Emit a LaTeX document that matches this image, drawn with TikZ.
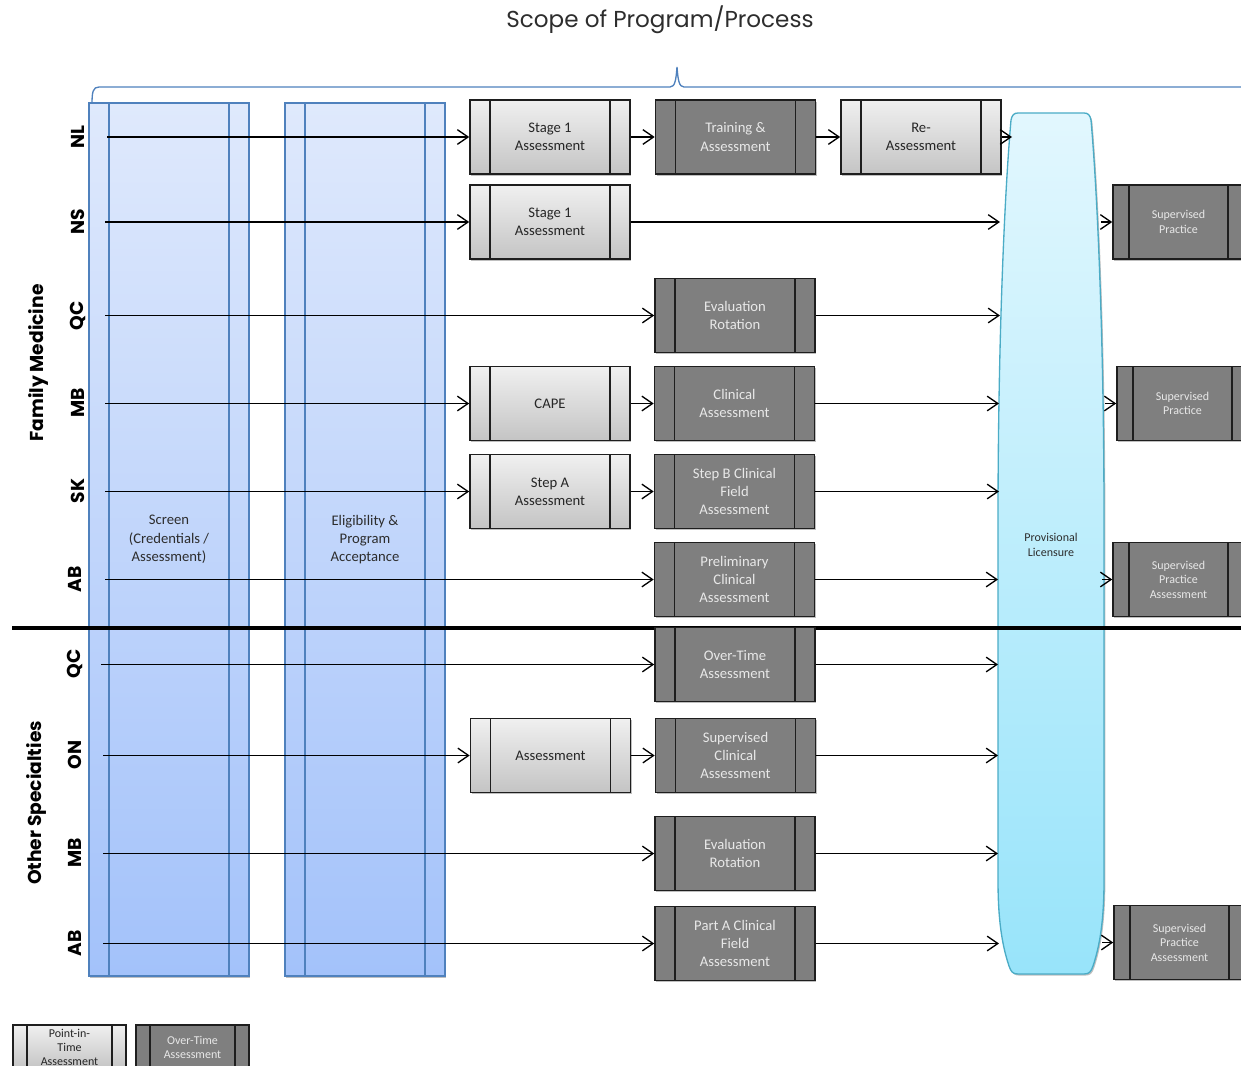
\documentclass[tikz,border=0pt]{standalone}
\usepackage{fontspec}
\setmainfont{Carlito}
\newfontfamily\headfont{Poppins}
\usetikzlibrary{arrows.meta,shadows}

\definecolor{colTop}{RGB}{223,233,252}
\definecolor{colBot}{RGB}{163,194,250}
\definecolor{colLine}{RGB}{79,129,189}
\definecolor{pitTop}{RGB}{240,240,240}
\definecolor{pitBot}{RGB}{196,196,196}
\definecolor{otFill}{RGB}{127,127,127}
\definecolor{boxLine}{RGB}{30,30,30}
\definecolor{pitText}{RGB}{38,38,38}
\definecolor{otText}{RGB}{232,232,232}
\definecolor{provTop}{RGB}{226,247,254}
\definecolor{provBot}{RGB}{152,228,250}
\definecolor{provLine}{RGB}{75,172,198}
\definecolor{darkText}{RGB}{45,45,45}

\tikzset{
  arr/.style={line width=1pt, -{Straight Barb[length=8pt,width=11pt,line width=1pt]}},
  softshadow/.style={drop shadow={shadow xshift=1pt, shadow yshift=-1.2pt, opacity=0.25, fill=black}},
  panels/.style={path picture={
    \draw[boxLine,line width=1.2pt] ([xshift=#1]path picture bounding box.south west) -- ([xshift=#1]path picture bounding box.north west);
    \draw[boxLine,line width=1.2pt] ([xshift=-#1]path picture bounding box.south east) -- ([xshift=-#1]path picture bounding box.north east);}},
  colpanels/.style={path picture={
    \draw[colLine,line width=1.1pt] ([xshift=#1]path picture bounding box.south west) -- ([xshift=#1]path picture bounding box.north west);
    \draw[colLine,line width=1.1pt] ([xshift=-#1]path picture bounding box.south east) -- ([xshift=-#1]path picture bounding box.north east);}},
  boxbase/.style={draw=boxLine, line width=1.2pt, minimum width=120pt, minimum height=55.5pt,
    inner sep=0pt, align=center, font=\fontsize{11}{13.8}\selectfont, panels=15pt, softshadow},
  pit/.style={boxbase, top color=pitTop, bottom color=pitBot, text=pitText},
  ot/.style={boxbase, fill=otFill, text=otText},
  smallbox/.style={minimum width=98.25pt, panels=12pt, font=\fontsize{9}{10.8}\selectfont},
  column/.style={draw=colLine, line width=1.1pt, top color=colTop, bottom color=colBot,
    minimum width=120pt, minimum height=654.75pt, inner sep=0pt, align=center,
    text=darkText, font=\fontsize{11}{13.8}\selectfont, colpanels=15pt, softshadow},
  rowlab/.style={rotate=90, font=\fontsize{14}{16}\headfont\bfseries, text=black},
  grouplab/.style={rotate=90, font=\fontsize{14}{16}\headfont\bfseries, text=black},
}

\begin{document}
\begin{tikzpicture}[x=0.75pt, y=-0.75pt]
\useasboundingbox (0,0) rectangle (1241,1066);

% title and brace
\node[font=\fontsize{17.3}{20}\headfont, text=darkText] (title) at (660,20) {Scope of Program/Process};
\draw[colLine, line width=1pt] (92,104) .. controls (92,92) and (93,87) .. (99,87) -- (670,87)
  .. controls (675,87) and (676,80) .. (677,67) .. controls (678,80) and (679,87) .. (684,87) -- (1245,87);

% the two screening columns
\node[column] (screen) at (169,539.5) {Screen\\(Credentials /\\Assessment)};
\node[column] (elig) at (365,539.5) {Eligibility \&\\Program\\Acceptance};

% provisional licensure band
\draw[provLine, line width=1pt, top color=provTop, bottom color=provBot, softshadow]
  (1018,113) -- (1084,113) .. controls (1088,113) and (1090,115) .. (1091,120)
  .. controls (1098,200) and (1104,350) .. (1104,520) -- (1104,880)
  .. controls (1104,920) and (1100,945) .. (1093,966) .. controls (1091,972) and (1089,974) .. (1084,974)
  -- (1018,974) .. controls (1013,974) and (1011,972) .. (1009,966)
  .. controls (1002,945) and (998,920) .. (998,880) -- (998,520)
  .. controls (998,350) and (1004,200) .. (1011,120) .. controls (1012,115) and (1014,113) .. (1018,113) -- cycle;
\node[font=\fontsize{9}{10.8}\selectfont, text=darkText, align=center] (prov) at (1051,545) {Provisional\\Licensure};

% separator between the two groups
\draw[line width=2.3pt] (12,628) -- (1245,628);

% group and row labels
\node[grouplab] (fm) at (38,363) {Family Medicine};
\node[grouplab] (os) at (37,803) {Other Specialties};
\node[rowlab] (lnl) at (78,137) {NL};
\node[rowlab] (lns) at (78,222) {NS};
\node[rowlab] (lqc) at (78,316) {QC};
\node[rowlab] (lmb) at (78,403) {MB};
\node[rowlab] (lsk) at (78,491) {SK};
\node[rowlab] (lab) at (75,579) {AB};
\node[rowlab] (loqc) at (75,664) {QC};
\node[rowlab] (lon) at (75,755) {ON};
\node[rowlab] (lom) at (75,853) {MB};
\node[rowlab] (loab) at (75,943) {AB};

% assessment boxes
\node[pit] (nlA) at (550,137) {Stage 1\\Assessment};
\node[ot]  (nlB) at (735.5,137) {Training \&\\Assessment};
\node[pit] (nlC) at (921,137) {Re-\\Assessment};

\node[pit] (nsA) at (550,222) {Stage 1\\Assessment};
\node[ot, smallbox] (nsS) at (1178.5,222) {Supervised\\Practice};

\node[ot]  (qcB) at (735,315.5) {Evaluation\\Rotation};

\node[pit] (mbA) at (550,403.5) {CAPE};
\node[ot]  (mbB) at (734.5,403.5) {Clinical\\Assessment};
\node[ot, smallbox] (mbS) at (1182.5,403.5) {Supervised\\Practice};

\node[pit] (skA) at (550,491.5) {Step A\\Assessment};
\node[ot]  (skB) at (734.5,491.5) {Step B Clinical\\Field\\Assessment};

\node[ot]  (abB) at (734.5,579.5) {Preliminary\\Clinical\\Assessment};
\node[ot, smallbox] (abS) at (1178.5,579.5) {Supervised\\Practice\\Assessment};

\node[ot]  (oqcB) at (735,664.5) {Over-Time\\Assessment};

\node[pit] (onA) at (550.5,755.5) {Assessment};
\node[ot]  (onB) at (735.5,755.5) {Supervised\\Clinical\\Assessment};

\node[ot]  (omB) at (735,853.5) {Evaluation\\Rotation};

\node[ot]  (oabB) at (735,943.5) {Part A Clinical\\Field\\Assessment};
\node[ot, smallbox] (oabS) at (1179.5,942.5) {Supervised\\Practice\\Assessment};

% legend
\node[pit, minimum width=84.75pt, minimum height=33pt, panels=10.5pt, font=\fontsize{9}{10.5}\selectfont] (lgP) at (69.5,1047) {Point-in-\\Time\\Assessment};
\node[ot, minimum width=84.75pt, minimum height=33pt, panels=10.5pt, font=\fontsize{9}{10.5}\selectfont] (lgO) at (192.5,1047) {Over-Time\\Assessment};

% row start points and band end points
\coordinate (s-nl) at (107,137);
\coordinate (s-ns) at (105,222);
\coordinate (s-qc) at (105,315.5);
\coordinate (s-mb) at (105,403.5);
\coordinate (s-sk) at (105,491.5);
\coordinate (s-ab) at (105,579.5);
\coordinate (s-oqc) at (101,664.5);
\coordinate (s-on) at (103,755.5);
\coordinate (s-om) at (103,853.5);
\coordinate (s-oab) at (103,943.5);

\coordinate (p-nl) at (1012,137);
\coordinate (p-ns) at (1000,222);
\coordinate (p-qc) at (1000,315.5);
\coordinate (p-mb) at (999,403.5);
\coordinate (p-sk) at (999,491.5);
\coordinate (p-ab) at (998,579.5);
\coordinate (p-oqc) at (998,664.5);
\coordinate (p-on) at (998,755.5);
\coordinate (p-om) at (998,853.5);
\coordinate (p-oab) at (999,943.5);

\coordinate (q-ns) at (1101,222);
\coordinate (q-mb) at (1105,403.5);
\coordinate (q-ab) at (1102,579.5);
\coordinate (q-oab) at (1102,942.5);

% connectors
\draw[arr] (s-nl) -- (nlA.west);
\draw[arr] (nlA.east) -- (nlB.west);
\draw[arr] (nlB.east) -- (nlC.west);
\draw[arr] (nlC.east) -- (p-nl);

\draw[arr] (s-ns) -- (nsA.west);
\draw[arr] (nsA.east) -- (p-ns);
\draw[arr] (q-ns) -- (nsS.west);

\draw[arr] (s-qc) -- (qcB.west);
\draw[arr] (qcB.east) -- (p-qc);

\draw[arr] (s-mb) -- (mbA.west);
\draw[arr] (mbA.east) -- (mbB.west);
\draw[arr] (mbB.east) -- (p-mb);
\draw[arr] (q-mb) -- (mbS.west);

\draw[arr] (s-sk) -- (skA.west);
\draw[arr] (skA.east) -- (skB.west);
\draw[arr] (skB.east) -- (p-sk);

\draw[arr] (s-ab) -- (abB.west);
\draw[arr] (abB.east) -- (p-ab);
\draw[arr] (q-ab) -- (abS.west);

\draw[arr] (s-oqc) -- (oqcB.west);
\draw[arr] (oqcB.east) -- (p-oqc);

\draw[arr] (s-on) -- (onA.west);
\draw[arr] (onA.east) -- (onB.west);
\draw[arr] (onB.east) -- (p-on);

\draw[arr] (s-om) -- (omB.west);
\draw[arr] (omB.east) -- (p-om);

\draw[arr] (s-oab) -- (oabB.west);
\draw[arr] (oabB.east) -- (p-oab);
\draw[arr] (q-oab) -- (oabS.west);
\end{tikzpicture}
\end{document}
